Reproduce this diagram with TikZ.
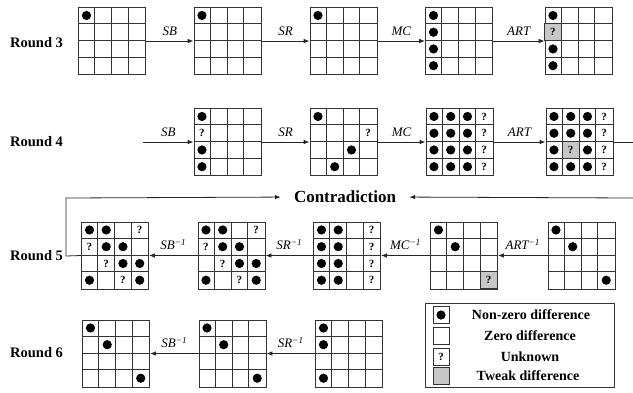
\documentclass[tikz,border=0pt]{standalone}
\usepackage{fontspec}
\setmainfont{Liberation Serif}
\usetikzlibrary{arrows.meta, positioning, calc}

\def\cs{16.75}
% a 4x4 state: box and inner lines
\newcommand{\stategrid}[3]{%
  \node[statebox] (#1) at (#2,#3) {};
  \begin{scope}[shift={(#1.north west)}]
    \foreach \k in {1,2,3} {
      \draw[cellline] (\k*\cs,0) -- (\k*\cs,4*\cs);
      \draw[cellline] (0,\k*\cs) -- (4*\cs,\k*\cs);
    }
  \end{scope}}
\newcommand{\nzcells}[2]{\foreach \r/\c in {#2}
  \fill[black] ([shift={({(\c-0.5)*\cs},{(\r-0.5)*\cs})}]#1.north west) circle (4.6pt);}
\newcommand{\unkcells}[2]{\foreach \r/\c in {#2}
  \node[unk] (#1-\r-\c) at ([shift={({(\c-0.5)*\cs},{(\r-0.5)*\cs})}]#1.north west) {?};}
\newcommand{\twkcells}[2]{\foreach \r/\c in {#2} {
  \filldraw[tweak] ([shift={({(\c-1)*\cs},{(\r-1)*\cs})}]#1.north west) rectangle ++(\cs,\cs);
  \node[unk] (#1-\r-\c) at ([shift={({(\c-0.5)*\cs},{(\r-0.5)*\cs})}]#1.north west) {?};}}

\begin{document}
\begin{tikzpicture}[x=1pt,y=-1pt,
    statebox/.style={draw=black!80,line width=0.8pt,minimum size=67pt,inner sep=0pt},
    cellline/.style={draw=black!80,line width=0.8pt},
    unk/.style={font=\fontsize{11}{11}\selectfont\bfseries,inner sep=0pt},
    tweak/.style={fill=black!22,draw=black!80,line width=0.8pt},
    flow/.style={draw=black!85,line width=0.8pt,-{Latex[length=6pt,width=4.5pt]}},
    oplabel/.style={above=2pt,font=\fontsize{13}{13}\selectfont\itshape},
    roundlabel/.style={anchor=west,inner sep=0pt,font=\fontsize{14.5}{16}\selectfont\bfseries},
    keybox/.style={draw=black!80,line width=0.8pt,minimum width=16pt,minimum height=17pt,inner sep=0pt},
    legtext/.style={font=\fontsize{14}{16}\selectfont\bfseries}]
  \useasboundingbox (0,0) rectangle (633,392);

  % Round 3
  \node[roundlabel] (round3) at (10,43) {Round 3};
  \stategrid{r3a}{112}{41}   \nzcells{r3a}{1/1}
  \stategrid{r3b}{227.5}{41} \nzcells{r3b}{1/1}
  \stategrid{r3c}{343.5}{41} \nzcells{r3c}{1/1}
  \stategrid{r3d}{459}{41}   \nzcells{r3d}{1/1,2/1,3/1,4/1}
  \stategrid{r3e}{578.5}{41} \nzcells{r3e}{1/1,3/1,4/1} \twkcells{r3e}{2/1}
  \draw[flow] (r3a.east) -- node[oplabel] {SB} (r3b.west);
  \draw[flow] (r3b.east) -- node[oplabel] {SR} (r3c.west);
  \draw[flow] (r3c.east) -- node[oplabel] {MC} (r3d.west);
  \draw[flow] (r3d.east) -- node[oplabel] {ART} (r3e.west);

  % Round 4
  \node[roundlabel] (round4) at (10,142) {Round 4};
  \stategrid{r4b}{227.5}{142} \nzcells{r4b}{1/1,3/1,4/1} \unkcells{r4b}{2/1}
  \stategrid{r4c}{343.5}{142} \nzcells{r4c}{1/1,3/3,4/2} \unkcells{r4c}{2/4}
  \stategrid{r4d}{459.5}{142}
  \nzcells{r4d}{1/1,1/2,1/3,2/1,2/2,2/3,3/1,3/2,3/3,4/1,4/2,4/3}
  \unkcells{r4d}{1/4,2/4,3/4,4/4}
  \stategrid{r4e}{579.5}{142} \twkcells{r4e}{3/2}
  \nzcells{r4e}{1/1,1/2,1/3,2/1,2/2,2/3,3/1,3/3,4/1,4/2,4/3}
  \unkcells{r4e}{1/4,2/4,3/4,4/4}
  \coordinate (r4in) at (143,142);
  \coordinate (r4out) at (633,142);
  \draw[flow] (r4in) -- node[oplabel] {SB} (r4b.west);
  \draw[flow] (r4b.east) -- node[oplabel] {SR} (r4c.west);
  \draw[flow] (r4c.east) -- node[oplabel] {MC} (r4d.west);
  \draw[flow] (r4d.east) -- node[oplabel] {ART} (r4e.west);
  \draw[cellline,draw=black!85] (r4e.east) -- (r4out);

  % Contradiction
  \node[inner sep=0pt,font=\fontsize{17}{18}\selectfont\bfseries] (contra) at (345,197) {Contradiction};
  \coordinate (cin) at (633,198);
  \draw[flow,shorten >=13pt] (cin) -- (contra.east);

  % Round 5
  \node[roundlabel] (round5) at (10,256) {Round 5};
  \stategrid{r5a}{115}{255.5}
  \nzcells{r5a}{1/1,1/2,2/2,2/3,3/3,3/4,4/1,4/4} \unkcells{r5a}{1/4,2/1,3/2,4/3}
  \stategrid{r5b}{231.5}{255.5}
  \nzcells{r5b}{1/1,1/2,2/2,2/3,3/3,3/4,4/1,4/4} \unkcells{r5b}{1/4,2/1,3/2,4/3}
  \stategrid{r5c}{347}{255.5}
  \nzcells{r5c}{1/1,1/2,2/1,2/2,3/1,3/2,4/1,4/2} \unkcells{r5c}{1/4,2/4,3/4,4/4}
  \stategrid{r5d}{464}{255.5} \twkcells{r5d}{4/4} \nzcells{r5d}{1/1,2/2}
  \stategrid{r5e}{581.5}{255.5} \nzcells{r5e}{1/1,2/2,4/4}
  \draw[flow] (r5e.west) -- node[oplabel] {ART\textsuperscript{−1}} (r5d.east);
  \draw[flow] (r5d.west) -- node[oplabel] {MC\textsuperscript{−1}} (r5c.east);
  \draw[flow] (r5c.west) -- node[oplabel] {SR\textsuperscript{−1}} (r5b.east);
  \draw[flow] (r5b.west) -- node[oplabel] {SB\textsuperscript{−1}} (r5a.east);
  \draw[flow,shorten >=13pt] (r5a.west) -- (66,256) -- (66,198) -- (contra.west);

  % Round 6
  \node[roundlabel] (round6) at (10,353) {Round 6};
  \stategrid{r6a}{116}{353.5}   \nzcells{r6a}{1/1,2/2,4/4}
  \stategrid{r6b}{232.5}{353.5} \nzcells{r6b}{1/1,2/2,4/4}
  \stategrid{r6c}{349}{353.5}   \nzcells{r6c}{1/1,2/1,4/1}
  \draw[flow] (r6c.west) -- node[oplabel] {SR\textsuperscript{−1}} (r6b.east);
  \draw[flow] (r6b.west) -- node[oplabel] {SB\textsuperscript{−1}} (r6a.east);

  % legend
  \node[draw=black!80,line width=0.8pt,minimum width=189pt,minimum height=84pt] (legend) at (519.5,345) {};
  \node[keybox] (knz) at (441,315) {};
  \fill[black] (knz) circle (4.6pt);
  \node[keybox] (kzero) at (441,336) {};
  \node[keybox,font=\fontsize{11}{11}\selectfont\bfseries] (kunk) at (441,356.5) {?};
  \node[keybox,fill=black!22] (ktwk) at (441,375.5) {};
  \node[legtext] (tnz) at (531,315) {Non-zero difference};
  \node[legtext] (tzero) at (530,336) {Zero difference};
  \node[legtext] (tunk) at (530,356.5) {Unknown};
  \node[legtext] (ttwk) at (528,375.5) {Tweak difference};
\end{tikzpicture}
\end{document}
